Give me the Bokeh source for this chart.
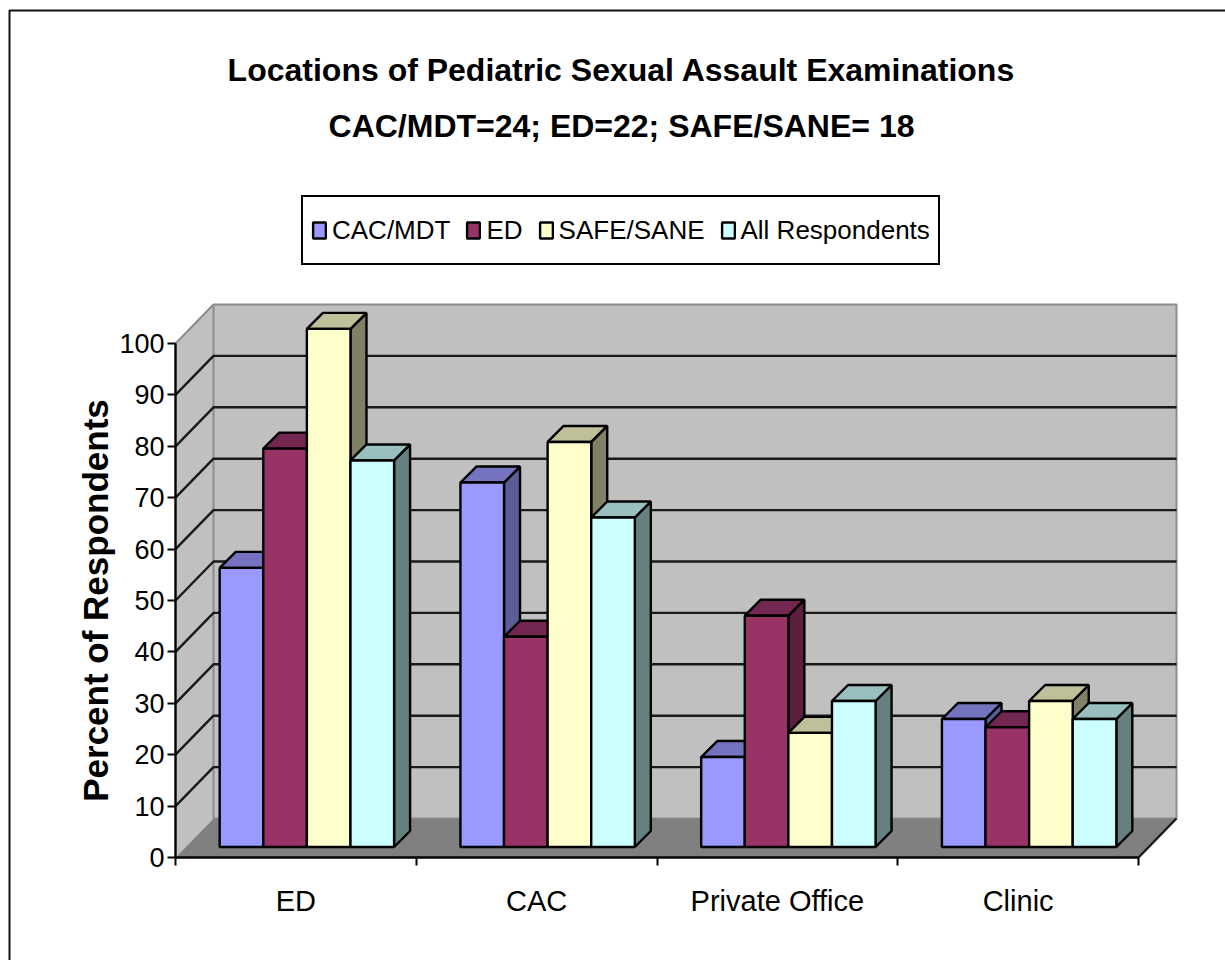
from bokeh.plotting import figure
from bokeh.models import LinearAxis, FixedTicker, Label, PolyAnnotation
from bokeh.embed import file_html
from bokeh.resources import INLINE

categories = ["ED", "CAC", "Private Office", "Clinic"]
series_names = ["CAC/MDT", "ED", "SAFE/SANE", "All Respondents"]
cac_mdt = [54.3, 70.9, 17.5, 24.9]
ed = [77.5, 40.9, 45.0, 23.3]
safe_sane = [100.8, 78.8, 22.2, 28.4]
all_respondents = [75.2, 64.1, 28.4, 24.9]
y_ticks = [0, 10, 20, 30, 40, 50, 60, 70, 80, 90, 100]
title_line1 = "Locations of Pediatric Sexual Assault Examinations"
title_line2 = "CAC/MDT=24; ED=22; SAFE/SANE= 18"
y_label = "Percent of Respondents"

series = [cac_mdt, ed, safe_sane, all_respondents]
front_colors = ["#9999FF", "#993366", "#FFFFCC", "#CCFFFF"]
top_colors = ["#7373BF", "#732650", "#BFBF99", "#99BFBF"]
side_colors = ["#5C5C99", "#5C1F3D", "#808066", "#668080"]

# layout: page pixels of the plot's front plane
W, H = 1225, 960
PX, PY = 240.75, 5.14          # pixels per category, per percent
X0, Y0 = 175, 857              # page pixel of (0, 0)
sx = lambda px: (px - X0) / PX
sy = lambda py: (Y0 - py) / PY

DX, DY = 38 / PX, 39 / PY      # depth of the floor
BW = 43.6 / PX                 # bar width
BDX, BDY = 16 / PX, 16 / PY    # depth of a bar
OX, OY = 11 / PX, 10.5 / PY    # bar offset from the front plane
GAP = (1 - 4 * BW) / 2

FONT = "Liberation Sans"
LW = 2.4

p = figure(width=W, height=H, output_backend="svg", toolbar_location=None,
           x_range=(sx(0), sx(W)), y_range=(sy(H), sy(0)),
           x_axis_location=None, y_axis_location=None,
           min_border=0, min_border_top=0, min_border_left=0,
           min_border_right=0, min_border_bottom=0, tools="")
p.grid.visible = False
p.outline_line_color = None
p.background_fill_color = "white"
p.border_fill_color = "white"

for text, base in ((title_line1, 69), (title_line2, 125)):
    p.add_layout(Label(x=sx(621), y=sy(base), text=text, text_align="center",
                       text_baseline="alphabetic", text_font=FONT, text_font_size="32px",
                       text_font_style="bold", text_color="black"))

# chart-area border (continues past the photographed page)
bl, bt = sx(9), sy(10)
p.add_layout(PolyAnnotation(xs=[bl, sx(1400), sx(1400), bl], ys=[bt, bt, sy(1200), sy(1200)],
                            fill_alpha=0, line_color="#111111", line_alpha=1, line_width=2))

n = len(categories)
top = y_ticks[-1]
GREY = "#8C8C8C"
# walls and floor
p.patch([0, DX, DX, 0], [0, DY, top + DY, top], fill_color="#C0C0C0", line_color=None)
p.patch([DX, n + DX, n + DX, DX], [DY, DY, top + DY, top + DY], fill_color="#C0C0C0", line_color=GREY, line_width=2)
p.patch([0, n, n + DX, DX], [0, 0, DY, DY], fill_color="#808080", line_color=None)
p.line([0, DX], [top, top + DY], line_color=GREY, line_width=2)
# gridlines
grid = y_ticks[1:-1]
p.multi_line([[0, DX, n + DX] for _ in grid], [[v, v + DY, v + DY] for v in grid],
             line_color="#1A1A1A", line_width=LW)
p.line([n, n + DX], [0, DY], line_color="#1A1A1A", line_width=LW)

# bars, painted left to right
for s, vals in enumerate(series):
    lefts = [g + GAP + OX + s * BW for g in range(n)]
    rights = [l + BW for l in lefts]
    tops = [v + OY for v in vals]
    p.patches([[r, r + BDX, r + BDX, r] for r in rights],
              [[OY, OY + BDY, t + BDY, t] for t in tops],
              fill_color=side_colors[s], line_color="black", line_width=LW)
    p.patches([[l, l + BDX, r + BDX, r] for l, r in zip(lefts, rights)],
              [[t, t + BDY, t + BDY, t] for t in tops],
              fill_color=top_colors[s], line_color="black", line_width=LW)
    p.quad(left=lefts, right=rights, top=tops, bottom=[OY] * n,
           fill_color=front_colors[s], line_color="black", line_width=LW,
           legend_label=series_names[s])

leg = p.legend[0]
leg.location = (301, H - 265)
leg.orientation = "horizontal"
leg.glyph_width = 16
leg.glyph_height = 20
leg.label_height = 50
leg.label_text_font = FONT
leg.label_text_font_size = "26px"
leg.label_text_color = "black"
leg.label_standoff = 5
leg.spacing = 15
leg.padding = 8
leg.margin = 0
leg.border_line_color = "black"
leg.border_line_alpha = 1
leg.border_line_width = 2
leg.background_fill_alpha = 1

# axes
ya = LinearAxis(fixed_location=0, bounds=(0, top), ticker=FixedTicker(ticks=y_ticks),
                axis_label=y_label, axis_label_text_font=FONT,
                axis_label_text_font_style="bold", axis_label_text_font_size="35px",
                axis_label_text_color="black", axis_label_standoff=1,
                major_label_text_font=FONT, major_label_text_font_size="27px",
                major_label_text_color="black", major_label_standoff=3,
                axis_line_color="black", axis_line_width=LW,
                major_tick_line_color="black", major_tick_line_width=2,
                major_tick_in=0, major_tick_out=8, minor_tick_line_color=None)
p.add_layout(ya, "left")

centers = [g + 0.5 for g in range(n)]
xa = LinearAxis(fixed_location=0, bounds=(0, n),
                ticker=FixedTicker(ticks=centers, minor_ticks=list(range(n + 1))),
                major_label_overrides=dict(zip(centers, categories)),
                major_label_text_font=FONT, major_label_text_font_size="29px",
                major_label_text_color="black", major_label_standoff=19,
                axis_line_color="black", axis_line_width=LW,
                major_tick_line_color=None, major_tick_in=0, major_tick_out=0,
                minor_tick_line_color="black", minor_tick_line_width=2,
                minor_tick_in=0, minor_tick_out=8)
p.add_layout(xa, "below")

open("out.html", "w").write(file_html(p, INLINE))
